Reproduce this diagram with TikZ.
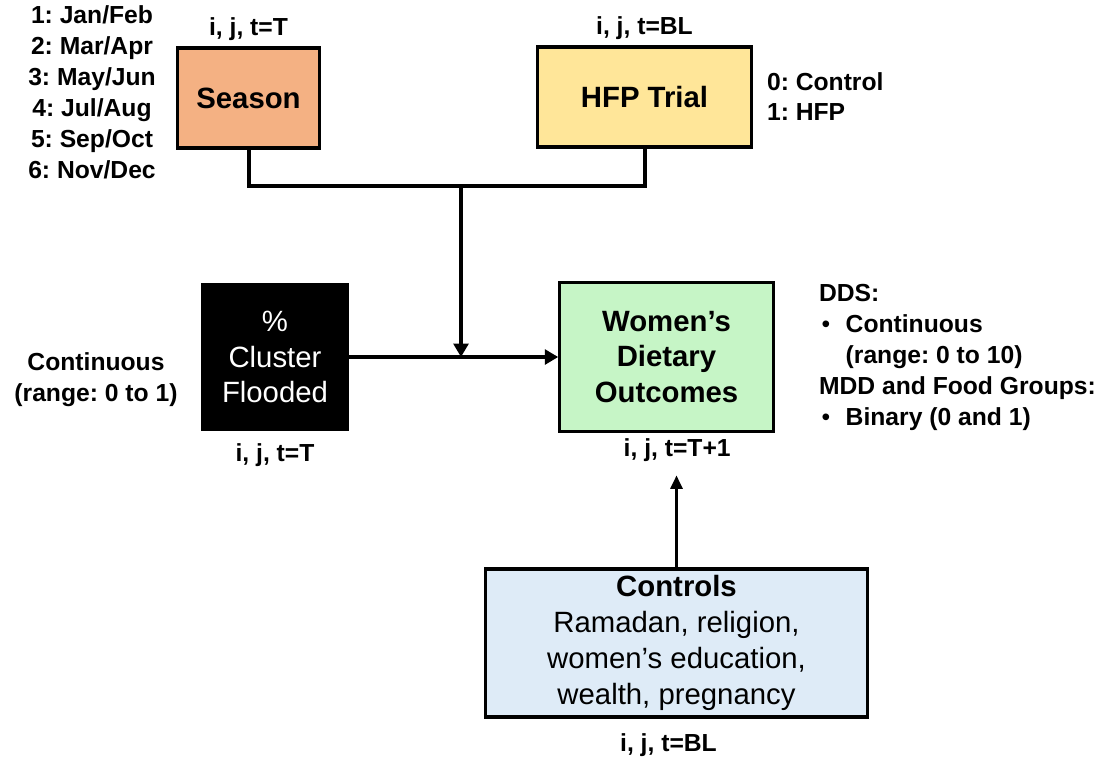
\documentclass[tikz,border=0pt]{standalone}
\usepackage{fontspec}
\setmainfont{Liberation Sans}
\frenchspacing
\usetikzlibrary{arrows.meta,positioning}
\definecolor{SeasonOr}{HTML}{F4B183}
\definecolor{TrialYel}{HTML}{FFE699}
\definecolor{OutGreen}{HTML}{C6F5C6}
\definecolor{CtrlBlue}{HTML}{DEEBF7}

\begin{document}
\begin{tikzpicture}[x=0.75pt,y=-0.75pt,
  box/.style={rectangle,draw=black,line width=2.4pt,align=center,
              font=\fontsize{22}{26.6}\selectfont\bfseries},
  note/.style={inner sep=0pt,font=\fontsize{18.5}{23.25}\selectfont\bfseries},
  link/.style={line width=3pt},
  arr/.style={-{Triangle[length=10pt,width=11pt]},line width=3pt},
  thinarr/.style={-{Triangle[length=10pt,width=9pt]},line width=2pt}]
\useasboundingbox (0,0) rectangle (1103,758);
% boxes
\node[box,fill=SeasonOr,minimum width=107pt,minimum height=75pt] (season) at (248.5,98) {Season};
\node[box,fill=TrialYel,minimum width=161pt,minimum height=75pt] (hfp) at (644.5,97) {HFP Trial};
\node[box,fill=black,text=white,minimum width=108pt,minimum height=109pt,
      font=\fontsize{22}{26.6}\selectfont] (flood) at (275,357) {\%\\Cluster\\Flooded};
\node[box,fill=OutGreen,minimum width=160pt,minimum height=112pt] (women) at (666.5,357)
  {Women’s\\Dietary\\Outcomes};
\node[box,fill=CtrlBlue,minimum width=286pt,minimum height=111pt,
      font=\fontsize{22}{27}\selectfont] (ctrl) at (676.5,643)
  {\textbf{Controls}\\Ramadan, religion,\\women’s education,\\wealth, pregnancy};
% indices
\node[note,above=4pt of season] (seasont) {i, j, t=T};
\node[note,above=4pt of hfp] (hfpt) {i, j, t=BL};
\node[note,below=9pt of flood] (floodt) {i, j, t=T};
\node[note,below=4pt of women,xshift=8pt] (womt) {i, j, t=T+1};
\node[note,below=11pt of ctrl,xshift=-6pt] (ctrlt) {i, j, t=BL};
% value notes
\node[note,align=center] (months) at (92,92)
  {1: Jan/Feb\\2: Mar/Apr\\3: May/Jun\\4: Jul/Aug\\5: Sep/Oct\\6: Nov/Dec};
\node[note,align=left,right=10pt of hfp,font=\fontsize{18.5}{22.5}\selectfont\bfseries] (arms)
  {0: Control\\1: HFP};
\node[note,align=center] (floodrange) at (96,380) {Continuous\\(range: 0 to 1)};
\node[note,align=left,right=33pt of women] (outtypes)
  {DDS:\\
   \hspace*{2pt}\makebox[18pt][l]{\mdseries•}Continuous\\
   \hspace*{20pt}(range: 0 to 10)\\
   MDD and Food Groups:\\
   \hspace*{2pt}\makebox[18pt][l]{\mdseries•}Binary (0 and 1)};
% connectors
\coordinate (join) at (461,186);
\draw[link] (season.south) |- (join) -| (hfp.south);
\draw[arr] (join) -- (join |- flood.east);
\draw[arr] (flood) -- (women);
\draw[thinarr,shorten >=10pt] (ctrl.north) -- (ctrl.north |- womt.south);
\end{tikzpicture}
\end{document}
